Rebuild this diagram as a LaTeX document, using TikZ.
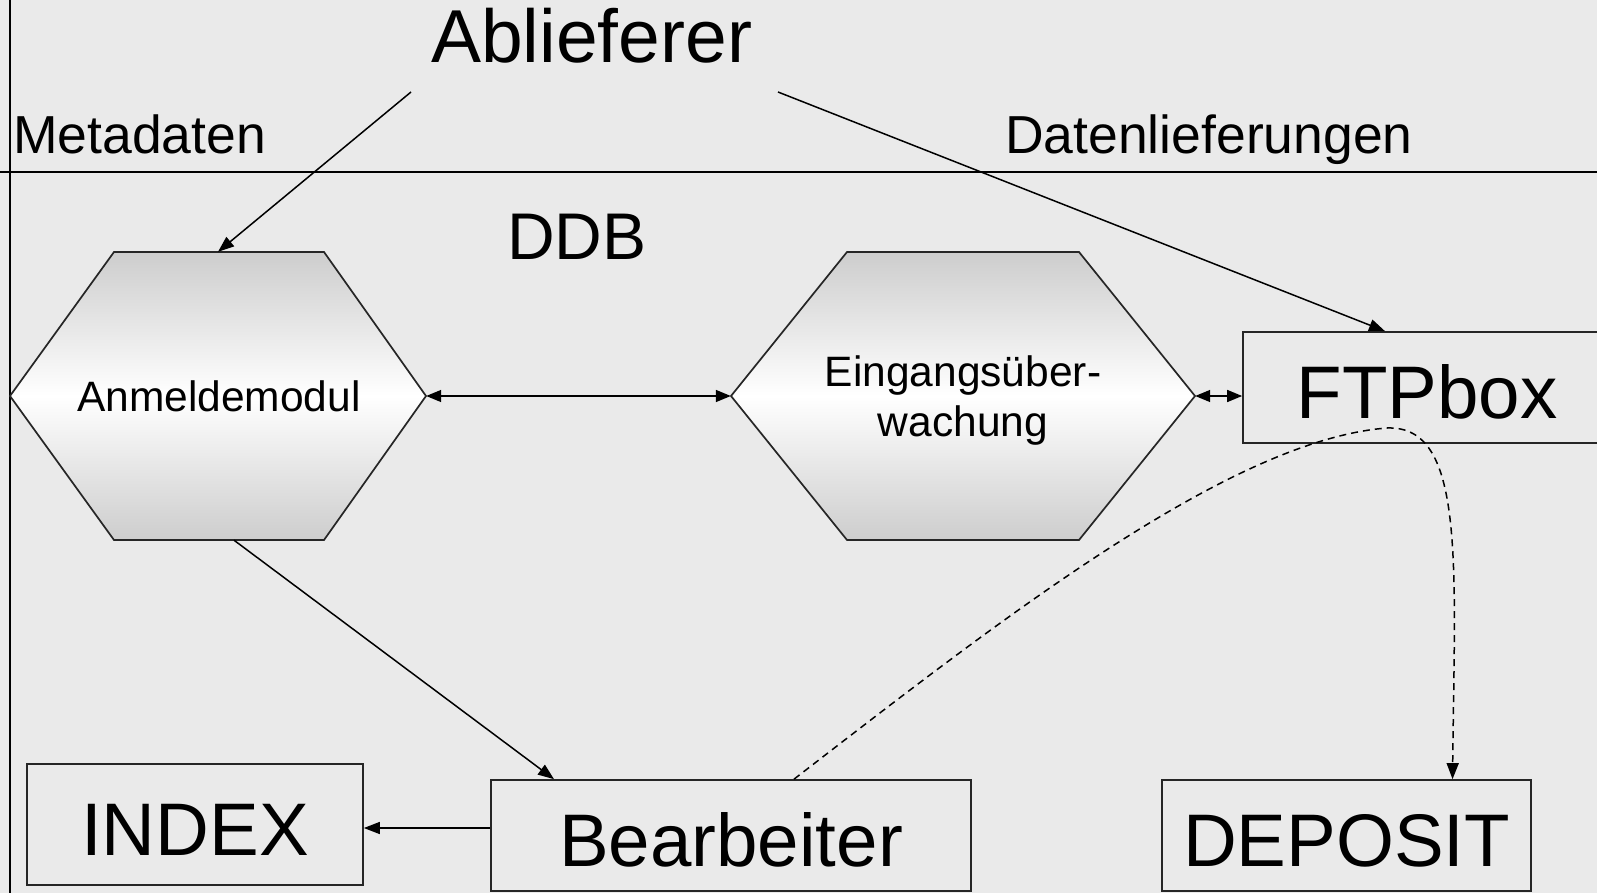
\documentclass[tikz,border=0pt]{standalone}
\usepackage{fontspec}
\setmainfont{Liberation Sans}
\usetikzlibrary{arrows.meta,calc}
\definecolor{bgc}{HTML}{EAEAEA}
\definecolor{hexg}{HTML}{CDCDCD}
\definecolor{edgec}{HTML}{262626}
\begin{document}
\begin{tikzpicture}[x=1pt,y=-1pt,
  conn/.style={line width=1.5pt, draw=black, -{Triangle[length=16pt,width=12pt]}},
  dblconn/.style={line width=1.5pt, draw=black, {Triangle[length=15pt,width=12pt]}-{Triangle[length=15pt,width=12pt]}},
  dashconn/.style={conn, dash pattern=on 7pt off 5pt},
  boxnode/.style={draw=edgec, line width=1.7pt, inner sep=0pt, text height=61pt, text depth=0pt, font=\fontsize{74.5}{80}\selectfont},
  hexshape/.style={draw=edgec, line width=1.7pt, top color=hexg, bottom color=hexg, middle color=white},
  hexarea/.style={inner sep=0pt, minimum height=288pt},
  hextext/.style={inner sep=0pt, align=center, font=\fontsize{42.5}{50}\selectfont},
  labelnode/.style={anchor=base west, inner sep=0pt}
]
\useasboundingbox (0,0) rectangle (1597,893);
\fill[bgc] (0,0) rectangle (1597,893);
\draw[line width=1.4pt] (10,0) -- (10,893);
\draw[line width=1.4pt] (0,172) -- (1597,172);

% hexagons
\path[hexshape] (10,396) -- (114,252) -- (324,252) -- (426,396) -- (324,540) -- (114,540) -- cycle;
\path[hexshape] (731,396) -- (847,252) -- (1079,252) -- (1195,396) -- (1079,540) -- (847,540) -- cycle;
\node[hexarea, minimum width=416pt] (h1) at (218,396) {};
\node[hexarea, minimum width=464pt] (h2) at (963,396) {};
\node[hextext] (h1t) at (219,396) {Anmeldemodul};
\node[hextext] (h2t) at (963,401) {Eingangsüber-\\wachung};

% labels
\node[labelnode, font=\fontsize{75}{80}\selectfont] (abl) at (431,63) {Ablieferer};
\node[labelnode, font=\fontsize{53.5}{60}\selectfont] (meta) at (13,154) {Metadaten};
\node[labelnode, font=\fontsize{53.5}{60}\selectfont] (dat) at (1005,154) {Datenlieferungen};
\node[labelnode, font=\fontsize{66}{70}\selectfont] (ddb) at (507,260) {DDB};

% boxes
\node[boxnode, minimum width=336pt, minimum height=121pt] (idx) at (195,824.5) {INDEX};
\node[boxnode, minimum width=480pt, minimum height=111pt] (bea) at (731,835.5) {Bearbeiter};
\node[boxnode, minimum width=369pt, minimum height=111pt] (dep) at (1346.5,835.5) {DEPOSIT};
\node[boxnode, minimum width=368pt, minimum height=111pt] (ftp) at (1427,387.5) {FTPbox};

% connectors
\coordinate (ablL) at (411,92);
\coordinate (ablR) at (778,92);
\draw[conn] (ablL) -- (h1.north);
\draw[conn] (ablR) -- ([xshift=-42pt]ftp.north);
\draw[dblconn] (h1.east) -- (h2.west);
\draw[dblconn] (h2.east) -- (h2.east -| ftp.west);
\draw[conn] ([xshift=16pt]h1.south) -- ([xshift=-177pt]bea.north);
\draw[conn] ([yshift=7.5pt]bea.west) coordinate (bw) -- (bw -| idx.east);
\draw[dashconn] ([xshift=63pt]bea.north) .. controls (1000,620) and (1230,440) .. (1387,428)
  .. controls (1465,425) and (1455,560) .. ([xshift=106pt]dep.north);
\end{tikzpicture}
\end{document}
